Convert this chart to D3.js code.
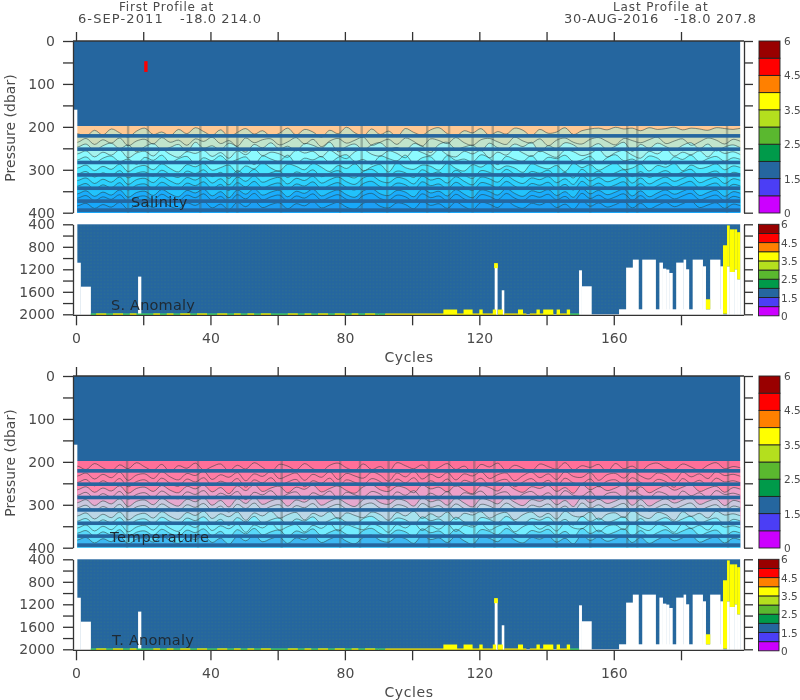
<!DOCTYPE html>
<html><head><meta charset="utf-8">
<script src="https://cdn.jsdelivr.net/npm/d3@7/dist/d3.min.js"></script>
<style>
html,body{margin:0;padding:0;background:#fff}
svg{display:block;filter:blur(0.45px)}
text{font-family:"DejaVu Sans",sans-serif;fill:#4a4a4a}
</style></head><body><svg id="c" width="800" height="700"></svg>
<script>
// ---- data ----
const headerFirst = ["First Profile at", "6-SEP-2011", "-18.0 214.0"];
const headerLast = ["Last Profile at", "30-AUG-2016", "-18.0 207.8"];
const colorbarColors = ["#cc00ff","#4b3ef5","#25669f","#009a4a","#5ab82f","#b4df1e","#ffff00","#ff8000","#ff0000","#990000"];
const colorbarLabels = ["0","1.5","2.5","3.5","4.5","6"];
const colorbarLabelSlots = [0,2,4,6,8,10];
const blueRowsP = [221,252,283,312,343,373,394];
const salinityBandColors = ["#ffc893","#cddcba","#c0e4cc","#a4f3ee","#8cfaff","#6ef4ff","#48e6ff","#3adcff","#2ccffc","#22c2fb","#1aacfb","#17a8fa","#1c9ff5"];
const temperatureBandColors = ["#ff6f98","#ff7ba3","#ff82a9","#ff86ab","#eda0c8","#e6a8ce","#c9c8de","#bcd6e6","#a5e2ee","#7deeff","#72edff","#58d8f9","#3db8f2"];
const salinityContours = [
[216,222,208,219,205,214,224,210,203,218,212,221,206,216,202,211,220,207,223,213,204,217,209,222,215,203,219,206,212,224,208,216,201,214,221,205,218,210,223,204,213,219,207,202,216,222,209,214,204,220,211,217,203,208,221,206,215,212,202,218,209,205,203,207,201,205,203,209,202,206,204,201,207,203,205,208,202,204,206,203],
[236,227,241,230,238,226,244,233,229,240,225,236,231,243,228,234,224,239,232,245,226,237,230,228,242,235,225,240,229,246,233,227,238,231,224,243,236,229,241,226,234,245,228,232,239,225,237,243,230,227,235,241,224,233,238,228,244,231,226,236,240,229,225,234,242,227,232,237,230,224,239,233,228,243,235,226,231,240,229,234],
[247,240,255,244,238,251,242,258,246,239,253,248,241,257,236,250,244,254,238,247,259,241,249,237,252,245,256,239,243,250,236,258,246,240,254,242,237,251,248,255,239,245,260,241,236,252,247,243,256,238,249,253,240,246,236,258,244,251,237,242,255,248,239,253,245,236,257,241,250,238,246,254,243,237,251,240,256,247,242,249],
[263,256,270,259,266,254,272,261,257,268,253,264,271,258,262,255,269,260,273,256,265,252,267,259,263,271,254,261,257,270,255,266,274,258,253,264,268,256,262,272,254,260,267,253,265,270,257,263,255,272,259,266,252,261,269,256,264,271,254,258,267,262,253,270,260,255,266,273,257,263,252,268,259,265,256,270,254,262,258,265],
[277,270,284,273,268,281,275,287,271,278,266,283,274,269,286,272,279,267,282,276,270,288,268,275,280,266,285,273,277,269,283,271,265,281,276,287,268,274,279,266,284,272,270,286,267,278,275,282,265,273,288,269,276,280,267,284,271,274,266,281,277,269,285,272,265,279,275,283,268,273,287,270,276,266,282,274,269,280,272,276],
[296,289,302,292,299,287,304,294,290,300,286,297,305,288,293,285,301,295,289,306,291,298,284,296,303,287,292,300,285,294,304,290,297,286,302,293,288,305,284,295,299,289,292,301,285,297,303,288,294,284,300,291,296,306,286,293,298,290,304,285,295,288,301,292,284,299,296,287,303,290,294,285,302,289,297,293,286,300,291,295],
[310,304,317,307,314,302,319,308,305,315,301,311,318,303,309,300,316,306,320,302,312,299,314,307,303,318,305,310,300,316,308,302,313,319,304,299,311,315,303,307,318,300,309,305,316,301,312,320,302,306,314,299,310,317,304,308,301,315,306,319,299,311,303,313,307,300,316,304,318,309,302,312,305,299,315,308,303,317,306,310],
[325,319,332,322,329,317,334,323,320,330,316,326,333,318,324,315,331,321,335,317,327,314,329,322,318,333,320,325,315,331,323,317,328,334,319,314,326,330,318,322,333,315,324,320,331,316,327,335,317,321,329,314,325,332,319,323,316,330,321,334,314,326,318,328,322,315,331,319,333,324,317,327,320,314,330,323,318,332,321,325],
[338,332,345,335,342,330,347,336,333,343,329,339,346,331,337,328,344,334,348,330,340,327,342,335,331,346,333,338,328,344,336,330,341,347,332,327,339,343,331,335,346,328,337,333,344,329,340,348,330,334,342,327,338,345,332,336,329,343,334,347,327,339,331,341,335,328,344,332,346,337,330,340,333,327,343,336,331,345,334,338],
[356,349,362,352,359,347,364,353,350,360,346,356,363,348,354,345,361,351,365,347,357,344,359,352,348,363,350,355,345,361,353,347,358,364,349,344,356,360,348,352,363,345,354,350,361,346,357,365,347,351,359,344,355,362,349,353,346,360,351,364,344,356,348,358,352,345,361,349,363,354,347,357,350,344,360,353,348,362,351,355],
[366,360,372,363,369,358,374,364,361,370,357,367,373,359,365,356,371,362,375,358,368,355,370,363,359,373,361,366,356,371,364,358,369,374,360,355,367,371,359,363,373,356,365,361,372,357,368,375,358,362,370,355,366,372,360,364,357,370,362,374,355,367,359,369,363,356,371,360,373,365,358,368,361,355,370,364,359,372,362,366],
[384,378,390,381,387,376,392,382,379,388,375,385,391,377,383,374,389,380,393,376,386,373,388,381,377,391,379,384,374,389,382,376,387,392,378,373,385,389,377,381,391,374,383,379,390,375,386,393,376,380,388,373,384,390,378,382,375,388,380,392,373,385,377,387,381,374,389,378,391,383,376,386,379,373,388,382,377,390,380,384]
];
const temperatureContours = [
[210,218,204,214,222,207,216,202,212,220,206,223,209,215,203,219,211,205,221,208,217,202,213,224,206,210,219,204,216,222,208,203,214,220,205,218,211,223,202,209,216,207,221,213,204,218,210,224,206,212,203,220,208,215,222,205,211,217,202,219,209,213,206,223,204,216,210,221,207,203,214,218,205,212,220,208,202,216,211,214],
[233,226,240,229,237,224,243,231,228,239,223,235,242,227,232,222,241,230,236,225,244,228,234,222,239,232,226,243,229,236,223,241,227,233,238,224,231,245,226,235,222,240,229,237,225,242,228,233,223,239,230,226,244,232,224,237,228,241,223,234,236,225,243,230,227,238,222,233,240,226,231,244,224,235,228,239,223,232,229,234],
[248,241,256,244,252,239,258,246,242,254,238,250,257,240,247,237,255,245,251,239,259,242,249,237,254,247,241,258,244,250,238,256,242,248,253,239,246,259,240,249,237,255,244,252,240,257,243,248,238,254,245,241,258,247,239,252,243,256,238,249,251,240,258,245,242,253,237,248,255,241,246,259,239,250,243,254,238,247,244,249],
[265,258,271,261,268,256,273,262,259,269,255,266,272,257,263,254,270,260,274,256,267,253,269,261,257,272,259,264,254,270,262,256,267,273,258,253,265,269,257,261,272,254,263,259,270,255,266,274,256,260,268,253,264,271,258,262,255,269,260,273,253,265,257,267,261,254,270,258,272,263,256,266,259,253,269,262,257,271,260,264],
[278,271,285,274,282,269,287,276,272,283,268,279,286,270,276,267,284,273,280,269,288,271,277,267,283,275,270,287,272,279,268,285,271,277,282,269,275,288,270,278,267,284,273,281,269,286,272,276,268,283,274,270,287,275,269,281,272,285,267,278,280,269,287,274,271,282,266,277,284,270,275,288,268,279,272,283,267,276,273,278],
[295,288,302,291,298,286,304,292,289,300,285,296,303,287,293,284,301,290,305,286,297,283,299,291,287,303,289,294,284,301,292,286,297,304,288,283,295,299,287,291,303,284,293,289,301,285,296,305,286,290,298,283,294,302,288,292,285,300,290,304,283,295,287,297,291,284,301,288,303,293,286,296,289,283,299,292,287,302,290,294],
[307,301,314,304,311,299,316,305,302,312,298,308,315,300,306,297,313,303,317,299,309,296,311,304,300,315,302,307,297,313,305,299,310,316,301,296,308,312,300,304,315,297,306,302,313,298,309,317,299,303,311,296,307,314,301,305,298,312,303,316,296,308,300,310,304,297,313,301,315,306,299,309,302,296,312,305,300,314,303,307],
[326,319,333,322,330,317,335,324,320,331,316,327,334,318,325,315,332,321,328,317,336,319,326,315,331,323,318,335,320,327,316,333,319,325,330,317,323,336,318,326,315,332,321,329,317,334,320,324,316,331,322,318,335,323,317,329,320,333,315,326,328,317,335,322,319,330,314,325,332,318,323,336,316,327,320,331,315,324,321,326],
[338,332,345,335,342,330,347,336,333,343,329,339,346,331,337,328,344,334,348,330,340,327,342,335,331,346,333,338,328,344,336,330,341,347,332,327,339,343,331,335,346,328,337,333,344,329,340,348,330,334,342,327,338,345,332,336,329,343,334,347,327,339,331,341,335,328,344,332,346,337,330,340,333,327,343,336,331,345,334,338],
[354,347,361,350,358,345,363,352,348,359,344,355,362,346,353,343,360,349,356,345,364,347,354,343,359,351,346,363,348,355,344,361,347,353,358,345,351,364,346,354,343,360,349,357,345,362,348,352,344,359,350,346,363,351,345,357,348,361,343,354,356,345,363,350,347,358,342,353,360,346,351,364,344,355,348,359,343,352,349,354],
[366,360,373,363,370,358,375,364,361,371,357,367,374,359,365,356,372,362,376,358,368,355,370,363,359,374,361,366,356,372,364,358,369,375,360,355,367,371,359,363,374,356,365,361,372,357,368,376,358,362,370,355,366,373,360,364,357,371,362,375,355,367,359,369,363,356,372,360,374,365,358,368,361,355,371,364,359,373,362,366],
[382,376,389,379,386,374,391,380,377,387,373,383,390,375,381,372,388,378,392,374,384,371,386,379,375,390,377,382,372,388,380,374,385,391,376,371,383,387,375,379,390,372,381,377,388,373,384,392,374,378,386,371,382,389,376,380,373,387,378,391,371,383,375,385,379,372,388,376,390,381,374,384,377,371,387,380,375,389,378,382]
];
const contourFirstCycle = 0.5, contourStep = 2.5;
const salinityColumns = [15.5,21.4,37,45,48,61,78.6,85,92.6,104.5,111,118,124,143.5,153,164,167,193.7];
const temperatureColumns = [15.2,36.3,61.2,78.6,84.5,93,105,111,118.5,124.5,143,153,164,167,194];
const redCellCycle = [20.3,21.3], redCellPressure = [47,72];
// anomaly panels: white gaps below a given pressure (cycle start, cycle end, top pressure)
const gapStart = [0,1.4,18.5,124.6,126.7,149.7,150.5,161.6,163.7,165.7,168.5,173.6,174.6,175.6,176.5,178.6,180.8,181.5,183.5,186.5,188.7,191.7,193.7,194.5,196,196.7];
const gapEnd   = [1.4,4.4,19.4,125.4,127.4,150.5,153.4,192.5,165.7,167.4,172.5,174.6,175.6,176.5,177.5,180.8,181.5,182.4,186.5,187.4,191.7,192.5,194.5,196,196.7,197.6];
const gapTop   = [1083,1509,1330,1117,1573,1218,1502,1911,1170,1028,1028,1081,1188,1205,1265,1081,1028,1200,1028,1147,1028,1147,1147,1248,1200,1378];
const yellowStart  = [124.4,187.4,192.5,193.7,194.5,196,196.7];
const yellowEnd    = [125.5,188.7,193.7,194.5,196,196.7,197.6];
const yellowTop    = [1090,1733,773,420,490,490,540];
const yellowBottom = [1180,1911,1990,1147,1248,1200,1378];
const rimGreenStart = [4.4,90,146], rimGreenEnd = [90,92,149.7];
const rimYellowStart = [6,11,16,23,27,31,36,42,47,51,55,63,68,72,77,82,86,92,127.4,135,143], rimYellowEnd = [9,14,18,25,29,34,39,45,49,53,58,66,70,75,80,84,89,124.6,134,142,146];
const bumpStart = [109.3,115.3,120,124,125.5,131.5,137,139,143,146], bumpEnd = [113.4,118,121,125,127,133,138,142,144,147];
const topTicks = d3.range(0,181,20);
const bottomLabels = [0,40,80,120,160];
const mainTicks = [0,50,100,150,200,250,300,350,400];
const mainLabels = [0,100,200,300,400];
const anomalyTicks = [400,600,800,1000,1200,1400,1600,1800,2000];
const anomalyLabels = [400,800,1200,1600,2000];

// ---- drawing ----
const svg = d3.select("#c");
const BLUE = "#25669f";
const x = d3.scaleLinear().domain([0,180]).range([76,681]);
const xMin = 0.4, xMax = 197.6;
const defs = svg.append("defs");

function txt(g,t,px,py,size,anchor,extra){
  return g.append("text").attr("x",px).attr("y",py).attr("font-size",size)
    .attr("text-anchor",anchor||"start").attr("letter-spacing",extra==null?1:extra).text(t);
}
function styleAxis(a){
  a.select(".domain").attr("stroke","#333").attr("stroke-width",1.3);
  a.selectAll(".tick line").attr("stroke","#333").attr("stroke-width",1.3);
  a.selectAll(".tick text").attr("font-size",14).attr("fill","#4a4a4a")
    .attr("font-family",'"DejaVu Sans",sans-serif');
}
function yAxes(g,y,ticks,labels){
  const l = g.append("g").attr("transform","translate(73,0)")
    .call(d3.axisLeft(y).tickValues(ticks).tickSize(10).tickSizeOuter(0).tickPadding(8)
      .tickFormat(d=>labels.includes(d)?d:""));
  styleAxis(l);
  const r = g.append("g").attr("transform","translate(744,0)")
    .call(d3.axisRight(y).tickValues(ticks).tickSize(9).tickSizeOuter(0).tickFormat(""));
  styleAxis(r);
}
function colorbar(g,top,bottom,x0,x1,labelX){
  const s = d3.scaleBand().domain(d3.range(10)).range([bottom,top]);
  g.selectAll("rect.cb").data(colorbarColors).enter().append("rect").attr("class","cb")
    .attr("x",x0).attr("width",x1-x0).attr("y",(d,i)=>s(i)).attr("height",s.bandwidth())
    .attr("fill",d=>d).attr("stroke","#222").attr("stroke-width",0.9);
  const p = d3.scaleLinear().domain([0,10]).range([bottom,top]);
  colorbarLabels.forEach((t,i)=>{
    txt(g,t,labelX,p(colorbarLabelSlots[i])+4,10.5,"start",0);
  });
}
function mainPanel(top,label,labelX,labelY,labelSpacing,bandColors,contours,columns,showRed,idx){
  const g = svg.append("g");
  const y = d3.scaleLinear().domain([0,400]).range([top,top+171.7]);
  const cid = "clip"+idx;
  defs.append("clipPath").attr("id",cid).append("rect")
    .attr("x",x(xMin)).attr("width",x(xMax)-x(xMin)).attr("y",y(197)).attr("height",y(400)-y(197));
  const plot = g.append("g");
  // colour bands: each one painted from its contour downward
  plot.append("rect").attr("x",x(xMin)).attr("width",x(xMax)-x(xMin)).attr("y",y(197)).attr("height",y(400)-y(197)).attr("fill",bandColors[0]);
  const cyc = i=>contourFirstCycle+i*contourStep;
  const ext = c=>[c[0]].concat(c,[c[c.length-1]]);
  const n = contours[0].length;
  const xs = i=> i===0?-3:(i===n+1?xMax+3:cyc(i-1));
  const area = d3.area().x((d,i)=>x(xs(i))).y0(y(400)).y1(d=>y(d)).curve(d3.curveCatmullRom);
  const line = d3.line().x((d,i)=>x(xs(i))).y(d=>y(d)).curve(d3.curveCatmullRom);
  const clipped = plot.append("g").attr("clip-path",`url(#${cid})`);
  contours.forEach((c,i)=>clipped.append("path").attr("d",area(ext(c))).attr("fill",bandColors[i+1]));
  columns.forEach(c=>clipped.append("rect").attr("x",x(c)-1.2).attr("width",2.4).attr("y",y(197)).attr("height",y(400)-y(197))
    .attr("fill","#4a5a58").attr("opacity",0.38));
  contours.forEach(c=>clipped.append("path").attr("d",line(ext(c))).attr("fill","none").attr("stroke","#2b3a3a").attr("stroke-width",0.9).attr("opacity",0.6));
  // upper blue block
  plot.append("rect").attr("x",x(xMin)).attr("width",x(xMax)-x(xMin)).attr("y",y(0)).attr("height",y(198)-y(0)).attr("fill",BLUE);
  plot.append("rect").attr("x",73).attr("width",x(xMin)-73+1).attr("y",y(0)).attr("height",y(160)-y(0)).attr("fill",BLUE);
  // blue rows
  plot.selectAll("rect.row").data(blueRowsP).enter().append("rect").attr("class","row")
    .attr("x",x(xMin)).attr("width",x(xMax)-x(xMin)).attr("y",d=>y(d-4.2)).attr("height",y(8.4)-y(0)).attr("fill",BLUE);
  if(showRed) plot.append("rect").attr("x",x(redCellCycle[0])).attr("width",x(redCellCycle[1])-x(redCellCycle[0]))
    .attr("y",y(redCellPressure[0])).attr("height",y(redCellPressure[1])-y(redCellPressure[0])).attr("fill","#ff0000");
  yAxes(g,y,mainTicks,mainLabels);
  const t = g.append("g").attr("transform",`translate(0,${top})`)
    .call(d3.axisTop(x).tickValues(topTicks).tickSize(9).tickSizeOuter(0).tickFormat(""));
  t.select(".domain").attr("d",`M73,0H744`);
  styleAxis(t);
  txt(g,"Pressure (dbar)",0,0,14,"middle",0).attr("transform",`translate(15,${top+87}) rotate(-90)`);
  txt(g,label,labelX,labelY,14.5,"start",labelSpacing).style("fill","#1f2a33");
  colorbar(g,top,top+172,759,780,784);
}
function anomalyPanel(top,label,labelX,labelY,idx){
  const g = svg.append("g");
  const y = d3.scaleLinear().domain([400,2000]).range([top,top+90]);
  const pid = "dots"+idx;
  const stepX = x(1)-x(0);
  const pat = defs.append("pattern").attr("id",pid).attr("patternUnits","userSpaceOnUse")
    .attr("width",stepX).attr("height",3.4).attr("x",x(0)).attr("y",top);
  pat.append("rect").attr("width",stepX).attr("height",3.4).attr("fill",BLUE);
  pat.append("circle").attr("cx",stepX/2).attr("cy",1.7).attr("r",0.5).attr("fill","#3a7f78");
  g.append("rect").attr("x",x(xMin)).attr("width",x(xMax)-x(xMin)).attr("y",y(400)).attr("height",y(2000)-y(400)).attr("fill",`url(#${pid})`);
  gapStart.forEach((s,i)=>g.append("rect").attr("x",x(s)-0.1).attr("width",x(gapEnd[i])-x(s)+0.2)
    .attr("y",y(gapTop[i])).attr("height",y(2030)-y(gapTop[i])).attr("fill","#fff"));
  const R = 1985;
  rimGreenStart.forEach((s,i)=>g.append("rect").attr("x",x(s)).attr("width",x(rimGreenEnd[i])-x(s)).attr("y",y(R)).attr("height",y(2015)-y(R)).attr("fill","#44dd66"));
  rimYellowStart.forEach((s,i)=>g.append("rect").attr("x",x(s)).attr("width",x(rimYellowEnd[i])-x(s)).attr("y",y(R)).attr("height",y(2015)-y(R)).attr("fill","#ffee00"));
  bumpStart.forEach((s,i)=>g.append("rect").attr("x",x(s)).attr("width",x(bumpEnd[i])-x(s)).attr("y",y(1915)).attr("height",y(2015)-y(1915)).attr("fill","#ffff00"));
  yellowStart.forEach((s,i)=>g.append("rect").attr("x",x(s)).attr("width",x(yellowEnd[i])-x(s)).attr("y",y(yellowTop[i])).attr("height",y(yellowBottom[i])-y(yellowTop[i])).attr("fill","#ffff00"));
  yAxes(g,y,anomalyTicks,anomalyLabels);
  const b = g.append("g").attr("transform",`translate(0,${top+91})`)
    .call(d3.axisBottom(x).tickValues(topTicks).tickSize(10).tickSizeOuter(0).tickPadding(8).tickFormat(d=>bottomLabels.includes(d)?d:""));
  b.select(".domain").attr("d","M73,0H744");
  styleAxis(b);
  txt(g,"Cycles",409,top+138,14,"middle",0.6);
  txt(g,label,labelX,labelY,14.5,"start",0.2).style("fill","#1f2a33");
  colorbar(g,top,top+91.5,758.5,779,781);
}
mainPanel(41,"Salinity",131,207,0.4,salinityBandColors,salinityContours,salinityColumns,true,1);
anomalyPanel(224.3,"S. Anomaly",111,310,2);
mainPanel(376,"Temperature",110,542,0.7,temperatureBandColors,temperatureContours,temperatureColumns,false,3);
anomalyPanel(559.3,"T. Anomaly",112,645,4);

const h = svg.append("g");
txt(h,headerFirst[0],119,11,12,"start",0.8);
txt(h,headerFirst[1],78,23,13,"start",1.1);
txt(h,headerFirst[2],180,23,13,"start",0.6);
txt(h,headerLast[0],613,11,12,"start",0.9);
txt(h,headerLast[1],564,23,13,"start",0.7);
txt(h,headerLast[2],674,23,13,"start",0.7);
</script></body></html>
